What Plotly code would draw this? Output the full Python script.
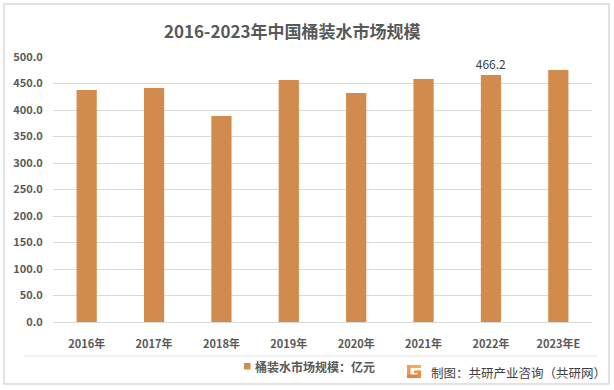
import plotly.graph_objects as go

categories = ["2016年", "2017年", "2018年", "2019年", "2020年", "2021年", "2022年", "2023年E"]
values = [437.7, 441.5, 388.7, 456.6, 432.0, 458.5, 466.2, 475.5]
labelled = ["2022年"]
y_ticks = [0, 50, 100, 150, 200, 250, 300, 350, 400, 450, 500]
title_text = "2016-2023年中国桶装水市场规模"
legend_text = "桶装水市场规模：亿元"
source_text = "制图：共研产业咨询（共研网）"

FONT = "Noto Sans CJK SC"
BAR = "#D38B4D"
GRID = "#D9D9D9"

# plot area in pixels
L, R, T, B = 53, 592, 57, 322
W, H = R - L, B - T


def px(x):
    return (x - L) / W


def py(y):
    return (B - y) / H


text_labels = [f"{v:.1f}" if c in labelled else "" for c, v in zip(categories, values)]

fig = go.Figure()
fig.add_trace(go.Bar(
    x=categories, y=values, marker_color=BAR, marker_line_width=0,
    text=text_labels, textposition="outside", cliponaxis=False,
    constraintext="none",
    textfont=dict(family=FONT, size=12, color="#404040"),
    showlegend=False, hoverinfo="x+y",
))

fig.update_layout(
    width=614, height=390,
    margin=dict(l=L, r=614 - R, t=T, b=390 - B),
    paper_bgcolor="white", plot_bgcolor="white",
    bargap=0.7,
    font=dict(family=FONT, color="#595959"),
    xaxis=dict(showgrid=False, showline=False,
               ticks="outside", ticklen=12, tickcolor="rgba(0,0,0,0)",
               tickfont=dict(family=FONT, size=11, color="#595959", weight="bold")),
    yaxis=dict(range=[0, 500], tickvals=y_ticks,
               ticktext=[f"{v:.1f}" for v in y_ticks],
               showgrid=True, gridcolor=GRID, gridwidth=1,
               zeroline=True, zerolinecolor=GRID, zerolinewidth=1,
               showline=False, ticks="outside", ticklen=7, tickcolor="rgba(0,0,0,0)",
               tickfont=dict(family=FONT, size=11, color="#595959", weight="bold")),
)

shapes = []
# outer frame
shapes.append(dict(type="rect", xref="paper", yref="paper",
                   x0=px(4), x1=px(609), y0=py(384), y1=py(4),
                   line=dict(color="#D9D9D9", width=1.5), fillcolor="rgba(0,0,0,0)", layer="below"))
# separator line
shapes.append(dict(type="line", xref="paper", yref="paper",
                   x0=px(24), x1=px(597), y0=py(356), y1=py(356),
                   line=dict(color="#E3E3E3", width=1)))
# legend square
shapes.append(dict(type="rect", xref="paper", yref="paper",
                   x0=px(244), x1=px(250.5), y0=py(369.5), y1=py(363),
                   line=dict(width=0), fillcolor=BAR))
# logo (stylised G)
logo_parts = [
    (407, 365, 421, 368, "#F6A85A"),
    (407, 365, 410.5, 378, "#F29A4E"),
    (407, 374.5, 421, 378, "#EE7F43"),
    (417.5, 370.5, 421, 378, "#EF8846"),
    (414, 370.5, 421, 373, "#F1924B"),
]
for x0, y0, x1, y1, col in logo_parts:
    shapes.append(dict(type="rect", xref="paper", yref="paper",
                       x0=px(x0), x1=px(x1), y0=py(y1), y1=py(y0),
                       line=dict(width=0), fillcolor=col))
fig.update_layout(shapes=shapes)

fig.add_annotation(text=title_text, xref="paper", yref="paper",
                   x=px(292), y=py(30), xanchor="center", yanchor="middle",
                   showarrow=False,
                   font=dict(family=FONT, size=17, color="#595959", weight="bold"))
fig.add_annotation(text=legend_text, xref="paper", yref="paper",
                   x=px(253), y=py(366.5), xanchor="left", yanchor="middle",
                   showarrow=False,
                   font=dict(family=FONT, size=12, color="#595959", weight="bold"))
fig.add_annotation(text=source_text, xref="paper", yref="paper",
                   x=px(429), y=py(372.5), xanchor="left", yanchor="middle",
                   showarrow=False,
                   font=dict(family=FONT, size=12.5, color="#404040"))

fig.write_html("out.html", config=dict(displayModeBar=False),
               post_script="document.body.style.margin='0';document.body.style.overflow='hidden';")
